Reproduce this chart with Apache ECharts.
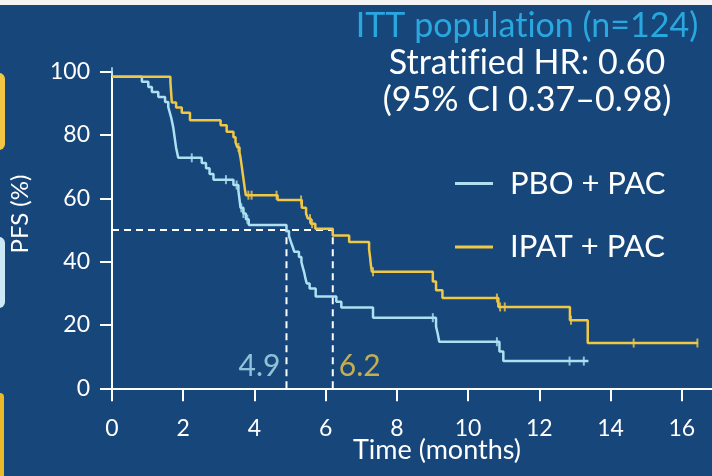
<!DOCTYPE html>
<html>
<head>
<meta charset="utf-8">
<title>PFS – ITT population</title>
<script src="https://cdn.jsdelivr.net/npm/echarts@6/dist/echarts.min.js"></script>
<style>
  html, body { margin: 0; padding: 0; background: #17467a; }
  #chart { width: 712px; height: 476px; }
</style>
</head>
<body>
<div id="chart"></div>
<script>
// Kaplan–Meier step points: [time in months, PFS %] after each event
const pboSteps = [[0,98.4],[0.84,96.8],[1.02,95.2],[1.12,93.6],[1.30,92.0],[1.49,90.4],[1.58,88.8],[1.62,87.2],[1.66,85.6],[1.69,84.0],[1.72,82.4],[1.74,80.8],[1.76,79.2],[1.78,77.6],[1.80,76.0],[1.83,74.4],[1.86,72.8],[2.52,71.2],[2.64,69.5],[2.74,67.7],[2.85,65.9],[3.41,64.2],[3.55,62.4],[3.57,60.6],[3.59,58.8],[3.61,57.0],[3.69,55.2],[3.76,53.4],[3.84,51.6],[4.90,49.7],[4.97,48.1],[5.02,46.4],[5.07,44.8],[5.12,43.1],[5.25,41.5],[5.32,39.8],[5.36,38.1],[5.40,36.5],[5.43,34.8],[5.47,33.1],[5.55,31.5],[5.72,29.0],[6.30,27.3],[6.44,25.5],[7.33,22.3],[9.10,19.5],[9.15,17.1],[9.19,14.7],[10.88,11.6],[10.99,8.6],[13.38,8.6]];
const ipatSteps = [[0,98.4],[1.64,96.8],[1.65,95.2],[1.66,93.5],[1.67,91.9],[1.68,90.3],[1.80,88.7],[1.96,87.0],[2.19,84.7],[3.05,83.1],[3.22,81.0],[3.41,79.3],[3.47,77.7],[3.52,76.1],[3.58,74.5],[3.61,72.8],[3.63,71.2],[3.65,69.6],[3.67,67.9],[3.69,66.3],[3.71,64.7],[3.73,63.0],[3.76,61.0],[4.65,59.5],[5.33,57.0],[5.45,55.2],[5.50,53.6],[5.58,52.0],[5.71,50.4],[6.20,48.3],[6.66,46.2],[7.22,43.9],[7.25,41.2],[7.27,39.0],[7.30,36.8],[9.01,33.7],[9.10,31.0],[9.28,28.5],[10.85,25.7],[12.86,21.5],[13.36,14.3],[16.46,14.3]];

// Censored observations
const pboCensored = [[0,100],[2.24,72.8],[3.20,65.9],[3.50,64.2],[3.63,57.0],[3.69,55.2],[3.80,53.4],[9.01,22.3],[10.81,14.7],[12.85,8.6],[13.25,8.6]];
const ipatCensored = [[3.55,76.1],[3.83,61.0],[3.92,61.0],[4.62,61.0],[5.31,59.5],[5.56,53.6],[5.62,52.0],[7.33,36.8],[10.81,28.5],[10.90,25.7],[11.03,25.7],[12.89,21.5],[14.65,14.3],[16.44,14.3]];

// Median PFS (months) and the 50% reference level
const medianPbo = 4.9;
const medianIpat = 6.2;
const halfLevel = 50;

const xTicks = [0, 2, 4, 6, 8, 10, 12, 14, 16];
const yTicks = [0, 20, 40, 60, 80, 100];

const seriesNames = ['PBO + PAC', 'IPAT + PAC'];
const blue = '#aee0f2';
const gold = '#f0c846';
const font = 'Lato, "Open Sans", sans-serif';
// zero-width non-joiner keeps "ti"/"fi" as separate letters
const ZWNJ = '\u200C';

const chart = echarts.init(document.getElementById('chart'), null, { renderer: 'canvas' });

const dashed = { color: '#ffffff', width: 2, type: [7, 5] };

chart.setOption({
  backgroundColor: '#17467a',
  animation: false,
  grid: { left: 112, top: 71.7, right: 0, bottom: 87.7 },
  xAxis: {
    type: 'value', min: 0, max: 16.85, interval: 2,
    axisLine: { lineStyle: { color: '#ffffff', width: 2 } },
    axisTick: { length: 13, lineStyle: { color: '#ffffff', width: 2 } },
    axisLabel: {
      color: '#ffffff', fontSize: 23, fontFamily: font, margin: 29,
      showMaxLabel: false,
      formatter: v => (xTicks.indexOf(v) >= 0 ? String(v) : '')
    },
    splitLine: { show: false }
  },
  yAxis: {
    type: 'value', min: 0, max: 100, interval: 20,
    axisLine: { show: true, lineStyle: { color: '#ffffff', width: 2 } },
    axisTick: { show: true, length: 12, lineStyle: { color: '#ffffff', width: 2 } },
    axisLabel: {
      color: '#ffffff', fontSize: 23, fontFamily: font, margin: 22,
      formatter: v => (yTicks.indexOf(v) >= 0 ? String(v) : '')
    },
    splitLine: { show: false }
  },
  legend: {
    data: seriesNames,
    orient: 'vertical',
    left: 455, top: 163.5, padding: 0,
    icon: 'rect', itemWidth: 38, itemHeight: 3, itemGap: 23.5,
    textStyle: { color: '#ffffff', fontSize: 31, fontFamily: font, lineHeight: 40, padding: [0, 0, 0, 12] }
  },
  graphic: [
    { type: 'rect', left: 0, top: 0, shape: { width: 712, height: 5 }, style: { fill: '#f4f4f4' }, silent: true },
    { type: 'rect', shape: { x: -12, y: 73, width: 17, height: 77, r: 6 }, style: { fill: '#f2c744' }, silent: true },
    { type: 'rect', shape: { x: -12, y: 237, width: 17, height: 71, r: 6 }, style: { fill: '#cbe9f6' }, silent: true },
    { type: 'rect', shape: { x: -12, y: 393, width: 16, height: 100, r: 4 }, style: { fill: '#e9b928' }, silent: true },
    { type: 'text', x: 527, y: 26, style: { text: 'ITT populat' + ZWNJ + 'ion (n=124)', fill: '#29a8e0', font: '34px ' + font, align: 'center', verticalAlign: 'middle' } },
    { type: 'text', x: 527, y: 63, style: { text: 'Strat' + ZWNJ + 'if' + ZWNJ + 'ied HR: 0.60', fill: '#ffffff', font: '34px ' + font, align: 'center', verticalAlign: 'middle' } },
    { type: 'text', x: 527, y: 100, style: { text: '(95% CI 0.37–0.98)', fill: '#ffffff', font: '34px ' + font, align: 'center', verticalAlign: 'middle' } },
    { type: 'text', x: 20, y: 214, rotation: Math.PI / 2, style: { text: 'PFS (%)', fill: '#ffffff', font: '24px ' + font, align: 'center', verticalAlign: 'middle' } },
    { type: 'text', x: 437, y: 450, style: { text: 'Time (months)', fill: '#ffffff', font: '27px ' + font, align: 'center', verticalAlign: 'middle' } }
  ],
  series: [
    {
      name: 'median-h', type: 'line', data: [[0, halfLevel], [medianIpat, halfLevel]],
      showSymbol: false, lineStyle: dashed, z: 1, silent: true
    },
    {
      name: 'median-pbo', type: 'line', data: [[medianPbo, 0], [medianPbo, halfLevel]],
      showSymbol: false, lineStyle: dashed, z: 1, silent: true
    },
    {
      name: 'median-ipat', type: 'line', data: [[medianIpat, 0], [medianIpat, halfLevel]],
      showSymbol: false, lineStyle: dashed, z: 1, silent: true
    },
    {
      name: seriesNames[0], type: 'line', step: 'end', data: pboSteps,
      showSymbol: false, color: blue, lineStyle: { color: blue, width: 2.5 }, z: 3
    },
    {
      name: seriesNames[1], type: 'line', step: 'end', data: ipatSteps,
      showSymbol: false, color: gold, lineStyle: { color: gold, width: 2.5 }, z: 4
    },
    {
      name: 'pbo-censored', type: 'scatter', data: pboCensored,
      symbol: 'rect', symbolSize: [2, 9], itemStyle: { color: blue }, z: 5
    },
    {
      name: 'ipat-censored', type: 'scatter', data: ipatCensored,
      symbol: 'rect', symbolSize: [2, 9], itemStyle: { color: gold }, z: 6
    },
    {
      name: 'median-labels', type: 'scatter',
      data: [
        { value: [medianPbo, 7], label: { position: 'left', distance: 6, color: blue } },
        { value: [medianIpat, 7], label: { position: 'right', distance: 6, color: gold } }
      ],
      symbolSize: 0,
      label: {
        show: true, fontSize: 30, fontFamily: font,
        formatter: p => p.value[0].toFixed(1)
      },
      z: 7, silent: true
    }
  ]
});
</script>
</body>
</html>
